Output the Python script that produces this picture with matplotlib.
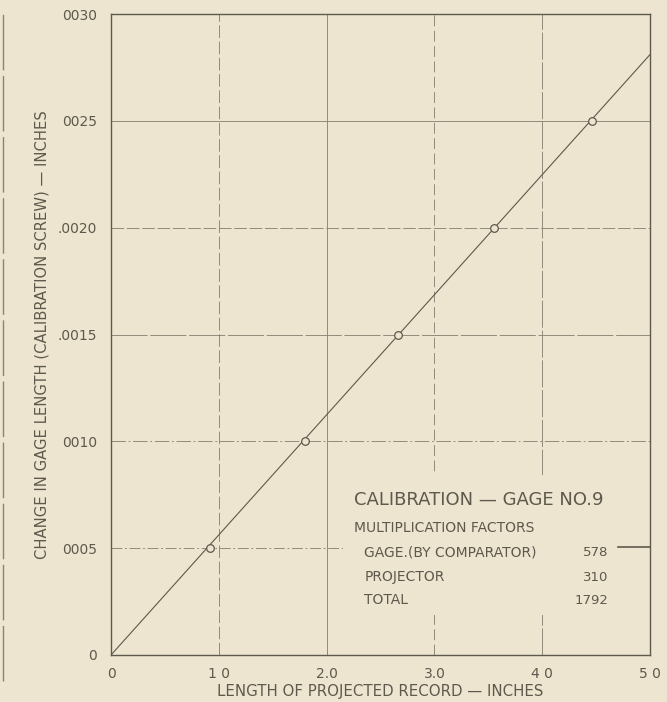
import numpy as np
import matplotlib
matplotlib.use("Agg")
import matplotlib.pyplot as plt
from matplotlib.patches import Rectangle
from matplotlib.lines import Line2D

# readings from the calibration sheet
record_len = [0.92, 1.80, 2.66, 3.55, 4.46]          # inches of projected record
gage_change = [0.0005, 0.0010, 0.0015, 0.0020, 0.0025]  # inches
fit_x = [0.0, 5.0]
fit_y = [0.0, 0.00281]

xticks = [0, 1, 2, 3, 4, 5]
xticklabels = ["0", "1 0", "2.0", "3.0", "4 0", "5 0"]
yticks = [0, 0.0005, 0.0010, 0.0015, 0.0020, 0.0025, 0.0030]
yticklabels = ["0", "0005", "0010", ".0015", ".0020", "0025", "0030"]

factor_names = ["GAGE.(BY COMPARATOR)", "PROJECTOR", "TOTAL"]
factor_vals = ["578", "310", "1792"]

paper = "#ede5cf"
ink = "#5e594d"
grid_ink = "#8a8475"

fig = plt.figure(figsize=(6.67, 7.02), dpi=100, facecolor=paper)
ax = fig.add_axes([111 / 667, 47 / 702, 539 / 667, 641 / 702])
ax.set_facecolor(paper)

# hand drawn grid, every line a bit different
vstyles = {1: (0, (14, 4)), 2: "-", 3: (0, (12, 5)), 4: (0, (30, 3))}
for xv, ls in vstyles.items():
    ax.axvline(xv, color=grid_ink, lw=0.65, ls=ls, zorder=1)
hstyles = {0.0005: (0, (12, 3, 2, 3)), 0.0010: (0, (16, 3, 2, 3)),
           0.0015: (0, (40, 3)), 0.0020: (0, (14, 3)), 0.0025: "-"}
for yv, ls in hstyles.items():
    ax.axhline(yv, color=grid_ink, lw=0.65, ls=ls, zorder=1)

# blank area where the lettering sits
ax.add_patch(Rectangle((2.15, 0.000187), 2.85, 0.000655, facecolor=paper,
                       edgecolor="none", zorder=2))

ax.plot(fit_x, fit_y, color=ink, lw=0.8, zorder=3)
ax.plot(record_len, gage_change, ls="none", marker="o", ms=5.5,
        mfc=paper, mec=ink, mew=0.9, zorder=4)

ax.set_xlim(0, 5.0)
ax.set_ylim(0, 0.0030)
ax.set_xticks(xticks)
ax.set_xticklabels(xticklabels)
ax.set_yticks(yticks)
ax.set_yticklabels(yticklabels)
ax.tick_params(length=0, labelsize=10, colors=ink, pad=9)
ax.tick_params(axis="y", pad=10)
for sp in ax.spines.values():
    sp.set_color(ink)
    sp.set_linewidth(1.0)

ax.set_xlabel("LENGTH OF PROJECTED RECORD — INCHES", fontsize=10.8,
              color=ink, labelpad=2)
ax.set_ylabel("CHANGE IN GAGE LENGTH (CALIBRATION SCREW) — INCHES",
              fontsize=10.6, color=ink, labelpad=6)

# lettering block
ax.text(2.25, 0.000725, "CALIBRATION — GAGE NO.9", fontsize=13,
        color=ink, va="center", ha="left", zorder=5)
ax.text(2.25, 0.000594, "MULTIPLICATION FACTORS", fontsize=10,
        color=ink, va="center", ha="left", zorder=5)
rows_y = [0.000482, 0.000365, 0.000257]
for name, val, yy in zip(factor_names, factor_vals, rows_y):
    ax.text(2.35, yy, name, fontsize=10, color=ink, va="center",
            ha="left", zorder=5)
    ax.text(4.61, yy, val, fontsize=9.5, color=ink, va="center",
            ha="right", zorder=5)
ax.plot([4.70, 5.0], [0.000505, 0.000505], color=ink, lw=1.2, zorder=5)

# stray scanner edge on the left margin
fig.add_artist(Line2D([0.004, 0.004], [0.03, 0.98], color="#8a8474",
                      lw=1.0, ls=(0, (40, 4))))

fig.savefig("out.png", dpi=100, facecolor=paper)
